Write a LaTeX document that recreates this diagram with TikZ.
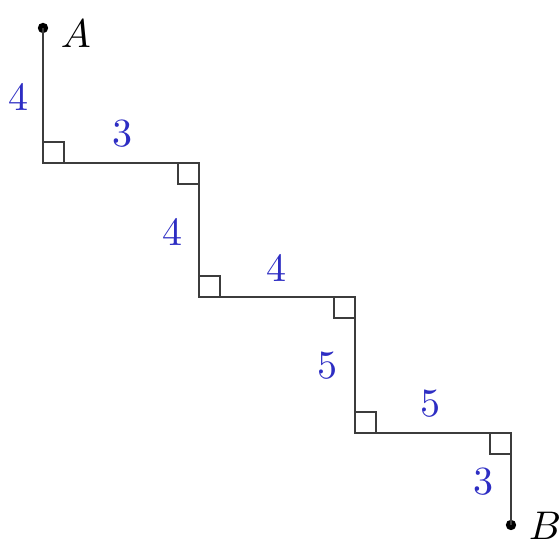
\documentclass[tikz,border=0pt]{standalone}
\definecolor{lblue}{RGB}{45,45,195}
\definecolor{lgray}{RGB}{60,60,60}
\begin{document}
\begin{tikzpicture}[x=0.25pt,y=-0.25pt,
  seg/.style={draw=lgray,line width=0.4pt},
  mark/.style={},
  rabox/.style={draw=lgray,line width=0.4pt},
  num/.style={text=lblue,inner sep=0pt},
  ptlab/.style={inner sep=0pt},
  dotpt/.style={circle,fill=black,inner sep=0pt,minimum size=2.6pt}]
\useasboundingbox (0,0) rectangle (559,542);
% corners
\node[dotpt] (A) at (43,28) {};
\coordinate (c1) at (43,163);
\coordinate (c2) at (199,163);
\coordinate (c3) at (199,297);
\coordinate (c4) at (355,297);
\coordinate (c5) at (355,433);
\coordinate (c6) at (511,433);
\node[dotpt] (B) at (511,525) {};
% path
\draw[seg] (A.center) -- (c1) -- (c2) -- (c3) -- (c4) -- (c5) -- (c6) -- (B.center);
% right angle marks
\draw[rabox] (c1) rectangle ++(21,-21);
\draw[rabox] (c2) rectangle ++(-21,21);
\draw[rabox] (c3) rectangle ++(21,-21);
\draw[rabox] (c4) rectangle ++(-21,21);
\draw[rabox] (c5) rectangle ++(21,-21);
\draw[rabox] (c6) rectangle ++(-21,21);
% labels
\node[ptlab] (lA) at (76,34) {$A$};
\node[ptlab] (lB) at (545,526) {$B$};
\node[num] (n1) at (18,97) {4};
\node[num] (n2) at (122,134) {3};
\node[num] (n3) at (173,232) {4};
\node[num] (n4) at (277,268) {4};
\node[num] (n5) at (328,366) {5};
\node[num] (n6) at (431,404) {5};
\node[num] (n7) at (484,482) {3};
\end{tikzpicture}
\end{document}
